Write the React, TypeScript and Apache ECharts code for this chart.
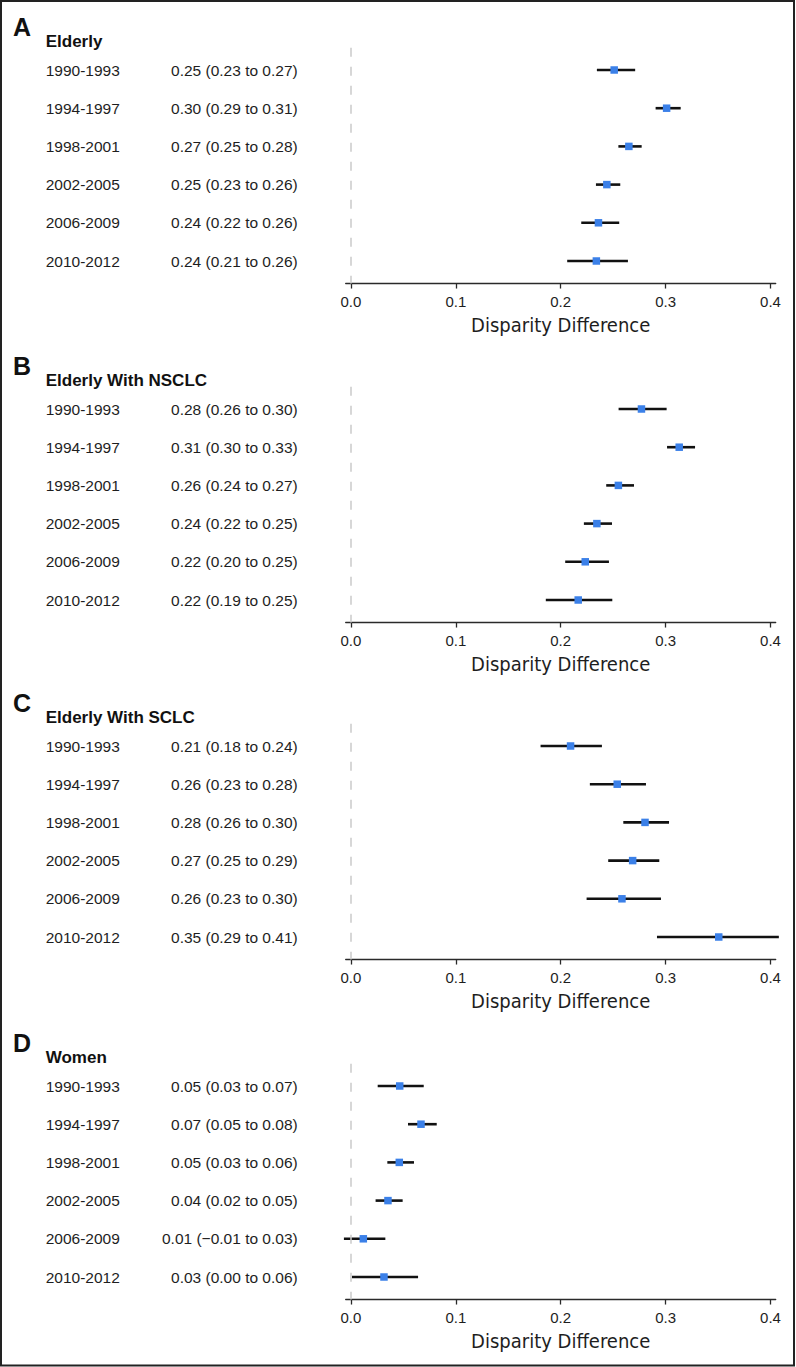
import React, { useEffect, useRef } from 'react';
import * as echarts from 'echarts';

const periods = ['1990-1993', '1994-1997', '1998-2001', '2002-2005', '2006-2009', '2010-2012'];
const panelLetters = ['A', 'B', 'C', 'D'];
const panelTitles = ['Elderly', 'Elderly With NSCLC', 'Elderly With SCLC', 'Women'];

const labelsA = ['0.25 (0.23 to 0.27)', '0.30 (0.29 to 0.31)', '0.27 (0.25 to 0.28)', '0.25 (0.23 to 0.26)', '0.24 (0.22 to 0.26)', '0.24 (0.21 to 0.26)'];
const labelsB = ['0.28 (0.26 to 0.30)', '0.31 (0.30 to 0.33)', '0.26 (0.24 to 0.27)', '0.24 (0.22 to 0.25)', '0.22 (0.20 to 0.25)', '0.22 (0.19 to 0.25)'];
const labelsC = ['0.21 (0.18 to 0.24)', '0.26 (0.23 to 0.28)', '0.28 (0.26 to 0.30)', '0.27 (0.25 to 0.29)', '0.26 (0.23 to 0.30)', '0.35 (0.29 to 0.41)'];
const labelsD = ['0.05 (0.03 to 0.07)', '0.07 (0.05 to 0.08)', '0.05 (0.03 to 0.06)', '0.04 (0.02 to 0.05)', '0.01 (\u22120.01 to 0.03)', '0.03 (0.00 to 0.06)'];

const estA = [0.251, 0.301, 0.265, 0.244, 0.236, 0.234];
const loA = [0.2345, 0.2905, 0.255, 0.2336, 0.2196, 0.2062];
const hiA = [0.271, 0.3144, 0.2772, 0.2568, 0.2558, 0.2641];

const estB = [0.277, 0.313, 0.255, 0.2345, 0.2234, 0.2167];
const loB = [0.2552, 0.3014, 0.2434, 0.2221, 0.2043, 0.1858];
const hiB = [0.301, 0.3281, 0.2699, 0.2489, 0.246, 0.2492];

const estC = [0.2094, 0.2539, 0.2804, 0.2686, 0.2584, 0.3507];
const loC = [0.1808, 0.2278, 0.2597, 0.2453, 0.2247, 0.2918];
const hiC = [0.2393, 0.2813, 0.3033, 0.294, 0.2956, 0.408];

const estD = [0.0465, 0.0668, 0.0461, 0.0353, 0.0118, 0.0315];
const loD = [0.0255, 0.0544, 0.0347, 0.0235, -0.0067, 0.001];
const hiD = [0.0694, 0.0818, 0.0601, 0.0493, 0.0328, 0.064];

const xTicks = [0, 0.1, 0.2, 0.3, 0.4];
const rowIdx = [0, 1, 2, 3, 4, 5];

const panels = [
  { labels: labelsA, est: estA, lo: loA, hi: hiA },
  { labels: labelsB, est: estB, lo: loB, hi: hiB },
  { labels: labelsC, est: estC, lo: loC, hi: hiC },
  { labels: labelsD, est: estD, lo: loD, hi: hiD },
];

const FONT = "'Liberation Sans', Arial, Helvetica, sans-serif";
const NARROW = "'Liberation Sans Narrow', 'DejaVu Sans Condensed', 'Roboto Condensed', Roboto, sans-serif";
const TEXT = '#1e1e1e';

export default function App() {
  const ref = useRef<HTMLDivElement>(null);

  useEffect(() => {
    if (!ref.current) return;
    const chart = echarts.init(ref.current, null, { renderer: 'svg' });

    const rowTop = [70, 409, 746, 1086];
    const rowStep = 38.2;
    const yMin = -0.58;
    const yMax = 5.59;
    const gridLeft = 345.7;
    const gridWidth = 430;

    const grids: any[] = [];
    const xAxes: any[] = [];
    const yAxes: any[] = [];
    const series: any[] = [];
    const graphics: any[] = [
      {
        type: 'rect',
        shape: { x: 1, y: 1, width: 793, height: 1364.5 },
        style: { fill: 'none', stroke: '#222', lineWidth: 2 },
        silent: true,
      },
    ];

    panels.forEach((p, k) => {
      grids.push({
        left: gridLeft,
        width: gridWidth,
        top: rowTop[k] + yMin * rowStep,
        height: (yMax - yMin) * rowStep,
        containLabel: false,
      });
      xAxes.push({
        gridIndex: k,
        type: 'value',
        min: -0.005,
        max: 0.405,
        splitLine: { show: false },
        axisLine: { show: true, onZero: false, lineStyle: { color: '#2a2a2a', width: 1.3 } },
        axisTick: { show: true, customValues: xTicks, length: 5, lineStyle: { color: '#2a2a2a', width: 1.3 } },
        axisLabel: {
          customValues: xTicks,
          formatter: (v: number) => v.toFixed(1),
          margin: 10,
          fontSize: 15,
          color: TEXT,
          fontFamily: FONT,
        },
        name: 'Disparity Difference',
        nameLocation: 'middle',
        nameGap: 31,
        nameTextStyle: { fontSize: 20, color: TEXT, fontFamily: NARROW },
      });
      yAxes.push({
        gridIndex: k,
        type: 'value',
        inverse: true,
        min: yMin,
        max: yMax,
        splitLine: { show: false },
        axisLine: { show: false },
        axisTick: { show: false },
        axisLabel: {
          customValues: rowIdx,
          align: 'left',
          margin: gridLeft - 45.7,
          formatter: (v: number) => {
            const i = Math.round(v);
            return `{p|${periods[i]}}{e|${p.labels[i]}}`;
          },
          rich: {
            p: { width: 110, align: 'left', fontSize: 15.5, color: TEXT, fontFamily: FONT },
            e: { width: 142, align: 'right', fontSize: 15.5, color: TEXT, fontFamily: FONT },
          },
        },
      });
      series.push({
        type: 'custom',
        xAxisIndex: k,
        yAxisIndex: k,
        data: rowIdx.map((i) => [p.lo[i], p.hi[i], p.est[i], i]),
        encode: { x: [0, 1, 2], y: 3 },
        renderItem: (params: any, api: any) => {
          const y = api.value(3);
          const a = api.coord([api.value(0), y]);
          const b = api.coord([api.value(1), y]);
          const c = api.coord([api.value(2), y]);
          return {
            type: 'group',
            children: [
              {
                type: 'line',
                shape: { x1: a[0], y1: a[1], x2: b[0], y2: b[1] },
                style: { stroke: '#111', lineWidth: 2.6 },
              },
              {
                type: 'rect',
                shape: { x: c[0] - 3.75, y: c[1] - 3.75, width: 7.5, height: 7.5 },
                style: { fill: '#3b80e8' },
              },
            ],
          };
        },
        markLine: {
          silent: true,
          symbol: 'none',
          label: { show: false },
          lineStyle: { type: [9, 10], color: '#cacaca', width: 1.5 },
          data: [{ xAxis: 0 }],
        },
        z: 3,
      });

      graphics.push({
        type: 'text',
        x: 13,
        y: rowTop[k] - 43,
        style: {
          text: panelLetters[k],
          font: `bold 25px ${FONT}`,
          fill: '#111',
          verticalAlign: 'middle',
          align: 'left',
        },
      });
      graphics.push({
        type: 'text',
        x: 45.7,
        y: rowTop[k] - 28.5,
        style: {
          text: panelTitles[k],
          font: `bold 17px ${FONT}`,
          fill: '#111',
          verticalAlign: 'middle',
          align: 'left',
        },
      });
    });

    chart.setOption({
      animation: false,
      backgroundColor: '#fff',
      grid: grids,
      xAxis: xAxes,
      yAxis: yAxes,
      series,
      graphic: graphics,
    });

    return () => chart.dispose();
  }, []);

  return (
    <div style={{ position: 'absolute', left: 0, top: 0, width: 796, height: 1367, background: '#fff' }}>
      <div ref={ref} style={{ width: 796, height: 1367 }} />
    </div>
  );
}
